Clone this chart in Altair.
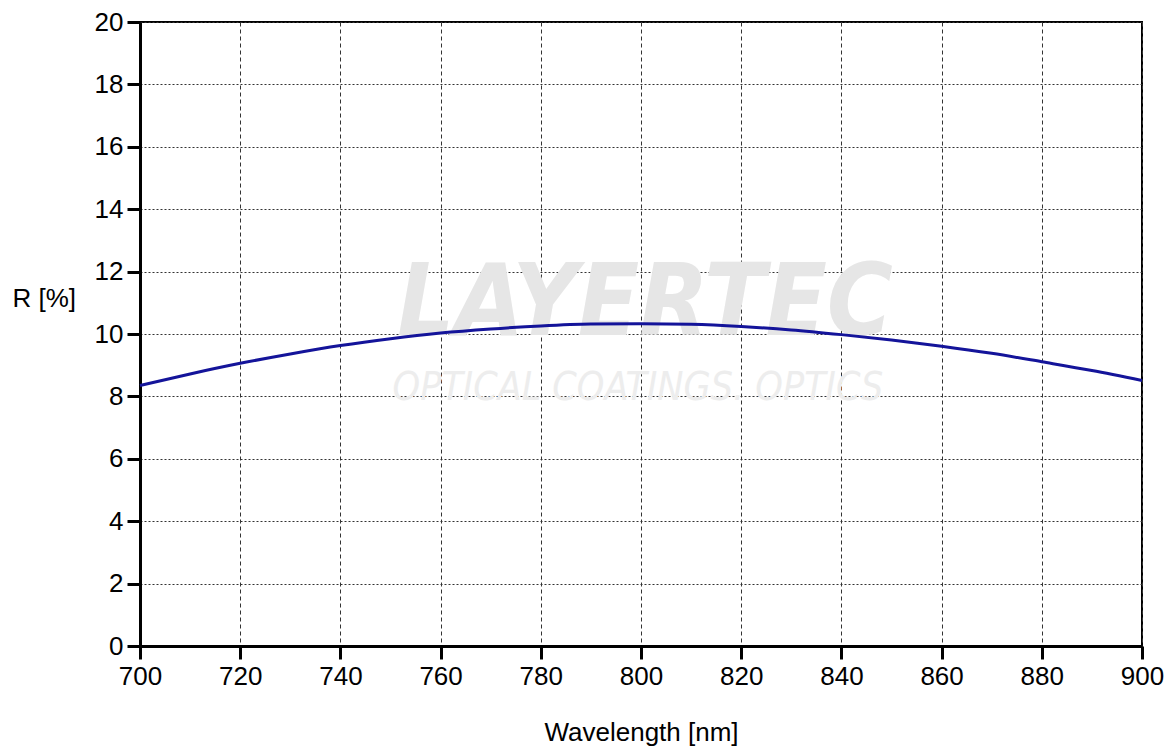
import altair as alt
import pandas as pd

wavelength = [700, 710, 720, 730, 740, 750, 760, 770, 780, 790, 800, 810, 820, 830, 840, 850, 860, 870, 880, 890, 900]
reflect = [8.35, 8.72, 9.06, 9.36, 9.63, 9.85, 10.03, 10.16, 10.26, 10.32, 10.33, 10.31, 10.24, 10.13, 9.98, 9.81, 9.61, 9.38, 9.11, 8.83, 8.51]

x_ticks = [700, 720, 740, 760, 780, 800, 820, 840, 860, 880, 900]
y_ticks = [0, 2, 4, 6, 8, 10, 12, 14, 16, 18, 20]

df = pd.DataFrame({"wl": wavelength, "r": reflect})
one = pd.DataFrame({"k": [0]})

FONT = "Liberation Sans"

wm1 = alt.Chart(one).mark_text(
    text="LAYERTEC", font="DejaVu Sans Condensed", fontSize=100, fontWeight="bold",
    fontStyle="italic", color="#e6e6e6", align="center", baseline="middle",
).encode(x=alt.value(505), y=alt.value(283))

wm2 = alt.Chart(one).mark_text(
    text="OPTICAL COATINGS. OPTICS", font="DejaVu Sans Condensed", fontSize=39,
    fontStyle="italic", color="#ededed", align="center", baseline="middle",
).encode(x=alt.value(498), y=alt.value(366))

line = alt.Chart(df).mark_line(color="#14149a", strokeWidth=3, interpolate="monotone").encode(
    x=alt.X("wl:Q", scale=alt.Scale(domain=[700, 900], nice=False),
            axis=alt.Axis(values=x_ticks, title="Wavelength [nm]", format="d",
                          gridDash=[4, 3], titleY=86, titleBaseline="middle")),
    y=alt.Y("r:Q", scale=alt.Scale(domain=[0, 20], nice=False),
            axis=alt.Axis(values=y_ticks, title="R [%]", format="d",
                          gridDash=[2, 2], titleAngle=0, titleX=-128, titleY=276,
                          titleAlign="left", titleBaseline="middle")),
)

chart = alt.layer(wm1, wm2, line).properties(
    width=1002, height=624,
    autosize=alt.AutoSizeParams(type="none"),
    padding={"left": 132, "top": 14, "right": 22, "bottom": 100},
    background="white",
).configure_view(stroke="black", strokeWidth=2).configure_axis(
    labelFont=FONT, titleFont=FONT, labelFontSize=26, titleFontSize=26,
    labelColor="black", titleColor="black", titleFontWeight="normal",
    domainColor="black", domainWidth=3, tickColor="black", tickWidth=3, tickSize=13,
    labelPadding=4, gridColor="#333333", gridWidth=1, gridOpacity=1,
    labelOverlap=False, labelFlush=False, zindex=1,
)

chart.save("out.html", embed_options={"renderer": "svg", "actions": False})
